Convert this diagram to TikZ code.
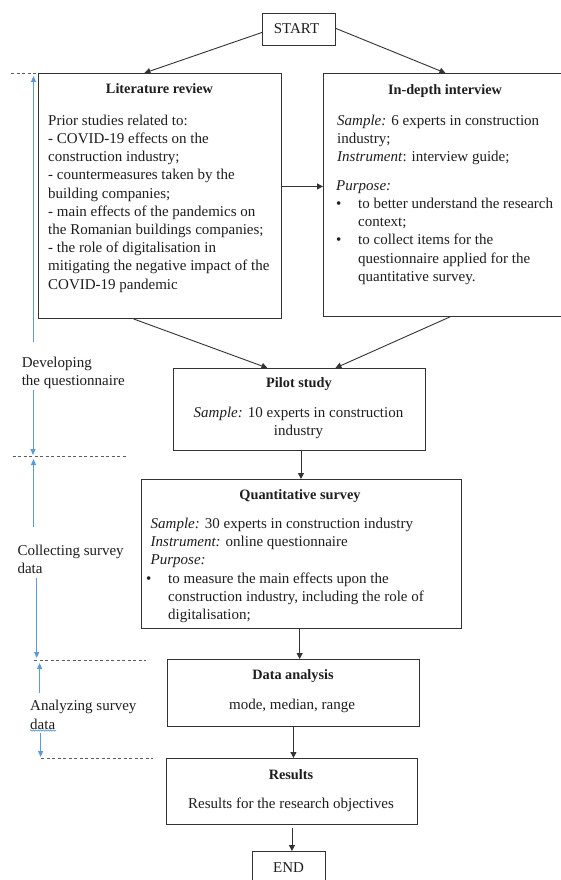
\documentclass[tikz,border=0pt]{standalone}
\usepackage{fontspec}
\setmainfont{Liberation Serif}
\usetikzlibrary{arrows.meta,decorations.pathmorphing}
\definecolor{linegray}{HTML}{333333}
\definecolor{txt}{HTML}{1E1E1E}
\definecolor{lblue}{HTML}{5B9BD5}
\begin{document}
\begin{tikzpicture}[x=1pt,y=1pt,
  boxnode/.style={draw=linegray, line width=0.9pt, inner sep=0, anchor=north west},
  body/.style={anchor=north west, inner sep=0, align=left, text=txt, font=\fontsize{15}{18.2}\selectfont},
  cbody/.style={anchor=north, inner sep=0, align=center, text=txt, font=\fontsize{15}{18.2}\selectfont},
  ttl/.style={anchor=base, inner sep=0, text=txt, font=\fontsize{14.3}{18}\selectfont\bfseries},
  plain/.style={anchor=base, inner sep=0, text=txt, font=\fontsize{15}{18}\selectfont},
  flow/.style={draw=linegray, line width=0.9pt, -{Triangle[length=6pt,width=6pt]}},
  phase/.style={draw=lblue, line width=1pt, -{Triangle[length=6pt,width=5pt]}},
  sep/.style={draw=linegray!80, line width=0.8pt, dash pattern=on 3pt off 2.5pt},
  note/.style={anchor=north west, inner sep=0, align=left, text=txt, font=\fontsize{15}{18.5}\selectfont}
]
\clip (0,0) rectangle (561,-880);
\fill[white] (0,0) rectangle (561,-880);

% boxes
\node[boxnode, minimum width=73pt, minimum height=32pt] (start) at (262,-13) {};
\node[boxnode, minimum width=243pt, minimum height=245pt] (lit) at (38,-73) {};
\node[boxnode, minimum width=244pt, minimum height=243pt] (idi) at (323,-73) {};
\node[boxnode, minimum width=252pt, minimum height=82pt] (pilot) at (173,-368) {};
\node[boxnode, minimum width=320pt, minimum height=149pt] (quant) at (141,-479) {};
\node[boxnode, minimum width=252pt, minimum height=67pt] (data) at (167,-659) {};
\node[boxnode, minimum width=251pt, minimum height=66pt] (res) at (166,-758) {};
\node[boxnode, minimum width=73pt, minimum height=40pt] (end) at (252,-851) {};

% texts
\node[plain] (tstart) at (296.5,-34) {START};
\node[plain] (tend) at (288.5,-872) {END};

\node[ttl] (tlit) at (159.5,-94) {Literature review};
\node[body] (blit) at (48,-114) {\rule{0pt}{11pt}Prior studies related to:\\
- COVID-19 effects on the\\
construction industry;\\
- countermeasures taken by the\\
building companies;\\
- main effects of the pandemics on\\
the Romanian buildings companies;\\
- the role of digitalisation in\\
mitigating the negative impact of the\\
COVID-19 pandemic};

\node[ttl] (tidi) at (445,-95) {In-depth interview};
\node[body] (bidi1) at (337,-114) {\rule{0pt}{11pt}\textit{Sample:} 6 experts in construction\\
industry;\\
\textit{Instrument}: interview guide;};
\node[body] (bidi2) at (336,-179) {\rule{0pt}{11pt}\textit{Purpose:}\\
\makebox[22pt][l]{\textbullet}to better understand the research\\
\hspace*{22pt}context;\\
\makebox[22pt][l]{\textbullet}to collect items for the\\
\hspace*{22pt}questionnaire applied for the\\
\hspace*{22pt}quantitative survey.};

\node[ttl] (tpilot) at (299,-387) {Pilot study};
\node[cbody] (bpilot) at (298.5,-406) {\rule{0pt}{11pt}\textit{Sample:} 10 experts in construction\\ industry};

\node[ttl] (tquant) at (300,-499) {Quantitative survey};
\node[body] (bquant1) at (150.5,-517) {\rule{0pt}{11pt}\textit{Sample:} 30 experts in construction industry\\
\textit{Instrument:} online questionnaire\\
\textit{Purpose:}};
\node[body] (bquant2) at (146,-572) {\rule{0pt}{11pt}\makebox[22pt][l]{\textbullet}to measure the main effects upon the\\
\hspace*{22pt}construction industry, including the role of\\
\hspace*{22pt}digitalisation;};

\node[ttl] (tdata) at (293,-679) {Data analysis};
\node[plain] (bdata) at (292,-709) {mode, median, range};

\node[ttl] (tres) at (291,-779) {Results};
\node[plain] (bres) at (291,-808) {Results for the research objectives};

% left phase labels
\node[note] (ph1) at (21.6,-356) {\rule{0pt}{11pt}Developing\\the questionnaire};
\node[note] (ph2) at (17.3,-544) {\rule{0pt}{11pt}Collecting survey\\data};
\node[note, font=\fontsize{15}{19}\selectfont] (ph3) at (30,-699) {\rule{0pt}{11pt}Analyzing survey\\data};
\coordinate (sq1) at (30,-730.5);
\coordinate (sq2) at (56,-730.5);
\draw[lblue, line width=0.6pt, decorate, decoration={snake, amplitude=0.7pt, segment length=2.5pt}] (sq1) -- (sq2);

% flow connectors
\coordinate (litout) at ([yshift=9.5pt]lit.east);
\draw[flow] ([yshift=-3pt]start.west) -- ([xshift=-15.5pt]lit.north);
\draw[flow] ([yshift=1pt]start.east) -- (idi.north);
\draw[flow] (litout) -- (idi.west |- litout);
\draw[flow] ([xshift=-26.5pt]lit.south) -- ([xshift=-32pt]pilot.north);
\draw[flow] ([xshift=4.5pt]idi.south) -- ([xshift=36pt]pilot.north);
\coordinate (pout) at ([xshift=1.5pt]pilot.south);
\draw[flow] (pout) -- (pout |- quant.north);
\coordinate (qout) at ([xshift=-1.8pt]quant.south);
\draw[flow] (qout) -- (qout |- data.north);
\draw[flow] (data.south) -- (data.south |- res.north);
\coordinate (rout) at ([yshift=-3pt]res.south);
\draw[flow] (rout) -- (rout |- end.north);

% separators
\coordinate (s0a) at (11,-73);
\coordinate (s1a) at (12.6,-456);
\coordinate (s1b) at (126.6,-456);
\coordinate (s2a) at (34,-660);
\coordinate (s2b) at (145.5,-660);
\coordinate (s3a) at (41,-758);
\coordinate (s3b) at (152.5,-758);
\draw[sep] (s0a) -- (lit.north west);
\draw[sep] (s1a) -- (s1b);
\draw[sep] (s2a) -- (s2b);
\draw[sep] (s3a) -- (s3b);

% phase arrows
\coordinate (a1s) at (33.5,-342); \coordinate (a1e) at (33.5,-76);
\coordinate (a2s) at (33,-390); \coordinate (a2e) at (33,-455);
\coordinate (a3s) at (33.5,-527); \coordinate (a3e) at (33.5,-459);
\coordinate (a4s) at (36.7,-578); \coordinate (a4e) at (36.7,-658);
\coordinate (a5s) at (39.6,-693); \coordinate (a5e) at (39.6,-663);
\coordinate (a6s) at (40.6,-733); \coordinate (a6e) at (40.6,-757);
\draw[phase] (a1s) -- (a1e);
\draw[phase] (a2s) -- (a2e);
\draw[phase] (a3s) -- (a3e);
\draw[phase] (a4s) -- (a4e);
\draw[phase] (a5s) -- (a5e);
\draw[phase] (a6s) -- (a6e);
\end{tikzpicture}
\end{document}
